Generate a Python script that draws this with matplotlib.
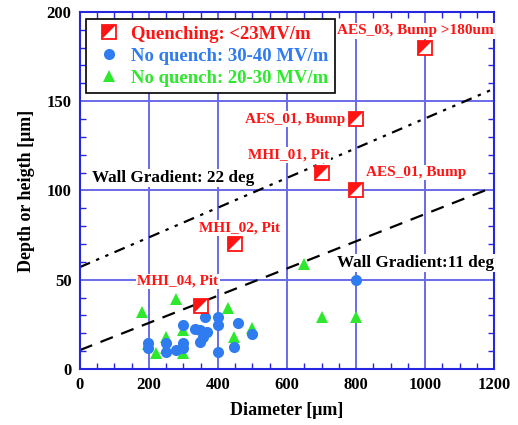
import matplotlib
matplotlib.use("Agg")
import matplotlib.pyplot as plt
from matplotlib.legend_handler import HandlerTuple
from matplotlib.ticker import MultipleLocator


# quenching defects (red half-filled squares)
quench_x = [1000, 800, 700, 800, 450, 350]
quench_y = [180, 140, 110, 100, 70, 35]
quench_labels = [
    "AES_03, Bump >180um",
    "AES_01, Bump",
    "MHI_01, Pit",
    "AES_01, Bump",
    "MHI_02, Pit",
    "MHI_04, Pit",
]
label_x = [972, 623, 606, 973, 464, 284]
label_y = [189.4, 140, 120, 110, 79, 49]

# no quench 30-40 MV/m (blue circles)
blue_x = [198, 198, 249, 249, 280, 300, 300, 300, 333, 348, 362, 367, 357, 348,
          399, 399, 399, 459, 447, 498, 800]
blue_y = [14.7, 11.6, 14.7, 9.2, 10.6, 14.7, 24.6, 11.5, 22.2, 22, 29.3, 20.9,
          18.1, 15.3, 29.3, 24.6, 9.7, 25.6, 12.5, 19.6, 50]

# no quench 20-30 MV/m (green triangles)
green_x = [179, 278, 198, 220, 249, 249, 300, 300, 430, 447, 498, 650, 700, 800]
green_y = [32, 39, 14, 9, 18, 11.6, 22, 9, 34, 18, 23, 59, 29, 29]

# wall gradient guide lines
line_x = [0, 1200]
grad22_y = [57, 157]
grad11_y = [10.5, 102]
grad_labels = ["Wall Gradient: 22 deg", "Wall Gradient:11 deg"]
grad_label_x = [271, 971]
grad_label_y = [107, 59.4]

RED = "#ff1414"
BLUE = "#2f7bf0"
GREEN = "#2ee82e"
GRID = "#6a6ae8"
SPINE = "#2626dc"

plt.rcParams["font.family"] = ["Liberation Serif", "DejaVu Serif"]
plt.rcParams["font.weight"] = "bold"

fig = plt.figure(figsize=(5.18, 4.25), dpi=100)
ax = fig.add_axes([0.154, 0.132, 0.800, 0.840])

ax.set_xlim(0, 1200)
ax.set_ylim(0, 200)
ax.xaxis.set_major_locator(MultipleLocator(200))
ax.xaxis.set_minor_locator(MultipleLocator(50))
ax.yaxis.set_major_locator(MultipleLocator(50))
ax.yaxis.set_minor_locator(MultipleLocator(10))
ax.grid(True, which="major", color=GRID, linewidth=1.4, zorder=0)
ax.set_axisbelow(True)
ax.tick_params(which="both", direction="in", top=True, right=True, color=SPINE,
               labelsize=12, pad=6)
ax.tick_params(which="major", length=0)
ax.tick_params(which="minor", length=4, width=1)
for spine in ax.spines.values():
    spine.set_color(SPINE)
    spine.set_linewidth(1.5)
for lab in ax.get_xticklabels() + ax.get_yticklabels():
    lab.set_fontweight("bold")

ax.set_xlabel("Diameter [\u03bcm]", fontsize=13, fontweight="bold", labelpad=6)
ax.set_ylabel("Depth or heigth [\u03bcm]", fontsize=13, fontweight="bold", labelpad=8)

ax.plot(line_x, grad22_y, color="black", linewidth=1.6, zorder=2,
        dashes=[5, 3, 1.5, 3, 1.5, 3])
ax.plot(line_x, grad11_y, color="black", linewidth=1.6, zorder=2, dashes=[6, 4])

text_box = dict(facecolor="white", edgecolor="none", pad=1)
for lx, ly, txt in zip(grad_label_x, grad_label_y, grad_labels):
    ax.text(lx, ly, txt, fontsize=12.3, fontweight="bold",
            ha="center", va="center", bbox=text_box, zorder=3)

for lx, ly, txt in zip(label_x, label_y, quench_labels):
    ax.text(lx, ly, txt, fontsize=11, fontweight="bold", color=RED,
            ha="center", va="center", bbox=text_box, zorder=3)

green_h, = ax.plot(green_x, green_y, "^", color=GREEN, markersize=8,
                   markeredgewidth=0, linestyle="none", zorder=4)
blue_h, = ax.plot(blue_x, blue_y, "o", color=BLUE, markersize=8,
                  markeredgewidth=0, linestyle="none", zorder=5)
sq_h, = ax.plot(quench_x, quench_y, "s", markerfacecolor="white",
                markeredgecolor=RED, markeredgewidth=1.3, markersize=9.5,
                linestyle="none", zorder=6)
tri_h, = ax.plot(quench_x, quench_y, marker=[(-1, -1), (-1, 1), (1, 1)],
                 color=RED, markeredgewidth=0, markersize=9.5,
                 linestyle="none", zorder=7)

leg = ax.legend(
    [(sq_h, tri_h), blue_h, green_h],
    ["Quenching: <23MV/m", "No quench: 30-40 MV/m", "No quench: 20-30 MV/m"],
    handler_map={tuple: HandlerTuple(ndivide=1)},
    loc="upper left", bbox_to_anchor=(0.016, 0.9795), fontsize=13.5,
    frameon=True, fancybox=False, edgecolor="black", framealpha=1,
    borderpad=0.35, labelspacing=0.26, handlelength=1.75, handletextpad=0.3,
    borderaxespad=0,
)
leg.get_frame().set_linewidth(1.2)
for txt, col in zip(leg.get_texts(), [RED, BLUE, GREEN]):
    txt.set_color(col)
    txt.set_fontweight("bold")

fig.savefig("out.png", dpi=100)
